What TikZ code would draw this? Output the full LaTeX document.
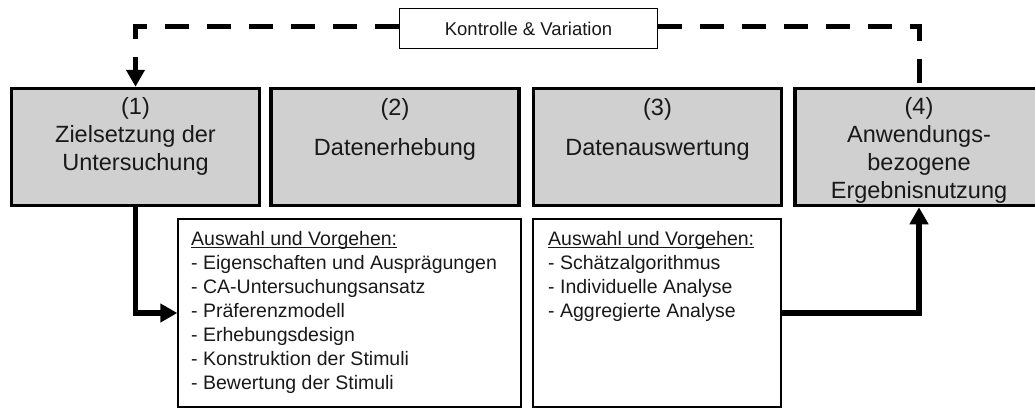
\documentclass[tikz,border=0pt]{standalone}
\usepackage{fontspec}
\setmainfont{Liberation Sans}
\usetikzlibrary{arrows.meta}
\definecolor{boxgray}{RGB}{208,208,208}
\definecolor{ink}{RGB}{25,25,25}
\newcommand{\myul}[1]{\setbox0\hbox{#1}\rlap{\rule[-3pt]{\wd0}{1.1pt}}\box0}
\begin{document}
\begin{tikzpicture}[x=1pt,y=-1pt,
  phase/.style={draw=black, line width=3.5pt, fill=boxgray, minimum width=248pt, minimum height=117pt, inner sep=0pt},
  detail/.style={draw=black, line width=1.4pt, fill=white, inner sep=0pt},
  ttl/.style={font=\fontsize{23.5}{28}\selectfont, text=ink, align=center, anchor=base, inner sep=0pt},
  lst/.style={font=\fontsize{19.5}{24}\selectfont, text=ink, align=left, anchor=base west, inner sep=0pt},
  flow/.style={line width=5.5pt, -{Triangle[length=17pt,width=18pt]}},
  loopline/.style={line width=5pt, dash pattern=on 24pt off 18pt}
]
\useasboundingbox (0,0) rectangle (1035,410);

% phase boxes
\node[phase] (p1) at (135.5,147) {};
\node[phase] (p2) at (395,147) {};
\node[phase] (p3) at (657.5,147) {};
\node[phase] (p4) at (919,147) {};

% multi-line nodes: anchor base = baseline of last line
\node[ttl] (t1) at (135.5,170) {(1)\\Zielsetzung der\\Untersuchung};
\node[ttl] (n2) at (395,115) {(2)};
\node[ttl] (t2) at (395,155) {Datenerhebung};
\node[ttl] (n3) at (657.5,115) {(3)};
\node[ttl] (t3) at (657.5,155) {Datenauswertung};
\node[ttl] (t4) at (919,198) {(4)\\Anwendungs-\\bezogene\\Ergebnisnutzung};

% detail boxes
\node[detail, minimum width=343pt, minimum height=188pt] (d1) at (349.5,313) {};
\node[detail, minimum width=248pt, minimum height=188pt] (d2) at (657,313) {};

\node[lst] (l1) at (191,389) {\myul{Auswahl und Vorgehen:}\\- Eigenschaften und Ausprägungen\\- CA-Untersuchungsansatz\\- Präferenzmodell\\- Erhebungsdesign\\- Konstruktion der Stimuli\\- Bewertung der Stimuli};
\node[lst] (l2) at (548,317) {\myul{Auswahl und Vorgehen:}\\- Schätzalgorithmus\\- Individuelle Analyse\\- Aggregierte Analyse};

% control label
\node[detail, line width=1.2pt, minimum width=258pt, minimum height=40pt, font=\fontsize{18.5}{22}\selectfont, text=ink] (kv) at (528.5,28.5) {Kontrolle \& Variation};

% connectors
\draw[flow] (p1.south) |- (d1.west);
\draw[flow] (d2.east) -| (p4.south);
\draw[loopline, -{Triangle[length=17pt,width=18pt]}] ([yshift=2.5pt]kv.west) -| (p1.north);
\draw[loopline] ([yshift=2.5pt]kv.east) -| (p4.north);
\end{tikzpicture}
\end{document}
